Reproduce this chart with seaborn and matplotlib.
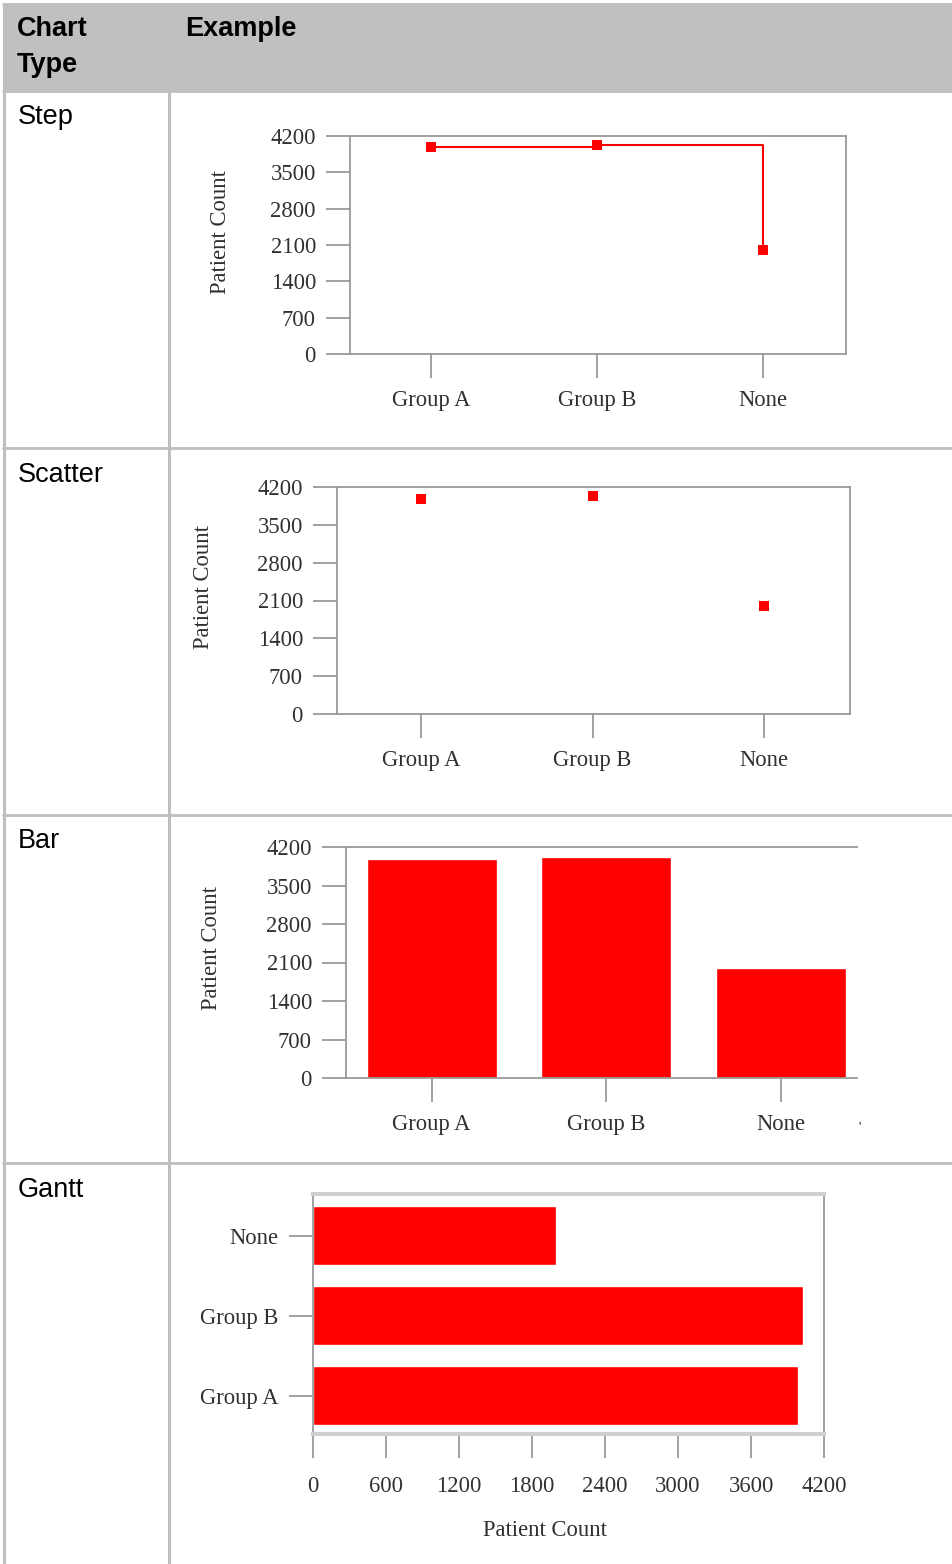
import matplotlib
matplotlib.use("Agg")
import matplotlib.pyplot as plt
from matplotlib.lines import Line2D
import seaborn as sns

# data
groups = ['Group A', 'Group B', 'None']
patient_count = [3985, 4025, 2000]
gantt_order = ['None', 'Group B', 'Group A']
y_ticks = [0, 700, 1400, 2100, 2800, 3500, 4200]
x_ticks_gantt = [0, 600, 1200, 1800, 2400, 3000, 3600, 4200]
row_names = ['Step', 'Scatter', 'Bar', 'Gantt']

sns.set_style('white')
plt.rcParams['font.family'] = ['Liberation Serif', 'DejaVu Serif']

W, H = 953, 1564
fig = plt.figure(figsize=(W / 100, H / 100), dpi=100)

RED = '#ff0000'
SPINE = '#9a9a9a'
TXT = '#303030'
GRID = '#bfbfbf'


def px_axes(x0, y0, x1, y1):
    # axes from pixel box (top-left origin)
    return fig.add_axes([x0 / W, 1 - y1 / H, (x1 - x0) / W, (y1 - y0) / H])


def hline(y, x0, x1, **kw):
    fig.add_artist(Line2D([x0 / W, x1 / W], [1 - y / H, 1 - y / H], transform=fig.transFigure, **kw))


def vline(x, y0, y1, **kw):
    fig.add_artist(Line2D([x / W, x / W], [1 - y0 / H, 1 - y1 / H], transform=fig.transFigure, **kw))


# table frame
fig.patches.append(plt.Rectangle((4 / W, 1 - 91 / H), 1, 87 / H, transform=fig.transFigure,
                                 facecolor='#c0c0c0', edgecolor='none', zorder=0))
for y in [4, 91, 448, 815, 1163]:
    hline(y, 3, W, color=GRID, lw=2)
vline(4, 4, H, color=GRID, lw=2.2)
vline(169, 4, H, color=GRID, lw=2.2)

hfont = dict(family=['Liberation Sans', 'DejaVu Sans'], fontsize=19.5, color='black', va='baseline')
fig.text(17 / W, 1 - 36 / H, 'Chart', fontweight='bold', **hfont)
fig.text(17 / W, 1 - 72 / H, 'Type', fontweight='bold', **hfont)
fig.text(185 / W, 1 - 36 / H, 'Example', fontweight='bold', **hfont)
for name, y in zip(row_names, [124, 482, 848, 1197]):
    fig.text(18 / W, 1 - y / H, name, fontweight='normal', **hfont)

FS = 16.3


def style(ax, top=True, right=True):
    for s in ax.spines.values():
        s.set_color(SPINE)
        s.set_linewidth(1.3)
    ax.spines['top'].set_visible(top)
    ax.spines['right'].set_visible(right)
    ax.tick_params(axis='both', direction='out', length=17, width=1.3, color=SPINE,
                   labelsize=FS, labelcolor=TXT, left=True, bottom=True)


def cat_chart(ax, xlim, ylab_x, ylab_y, top=True, right=True):
    style(ax, top, right)
    ax.set_xlim(*xlim)
    ax.set_ylim(0, 4200)
    ax.set_yticks(y_ticks)
    ax.set_xticks(range(len(groups)))
    ax.set_xticklabels(groups)
    ax.tick_params(axis='x', pad=9)
    ax.tick_params(axis='y', pad=7.5)
    ax.set_xlabel('')
    ax.set_ylabel('Patient Count', fontsize=FS, color=TXT)
    ax.yaxis.set_label_coords(ylab_x, ylab_y)
    ax.yaxis.label.set_verticalalignment('center')
    ax.yaxis.label.set_rotation_mode('anchor')


# Step
ax1 = px_axes(350, 136, 846, 354)
sns.lineplot(x=groups, y=patient_count, ax=ax1, color=RED, lw=1.5, marker='s', markersize=7,
             markeredgewidth=0, drawstyle='steps-post', sort=False)
cat_chart(ax1, (-0.49, 2.5), (220 - 350) / 496, (354 - 232) / 218)

# Scatter
ax2 = px_axes(337, 487, 850, 714)
sns.scatterplot(x=groups, y=patient_count, ax=ax2, color=RED, marker='s', s=50, linewidth=0)
cat_chart(ax2, (-0.49, 2.5), (204 - 337) / 513, (714 - 587) / 227)

# Bar
ax3 = px_axes(346, 847, 857, 1078)
sns.barplot(x=groups, y=patient_count, ax=ax3, color=RED, saturation=1, width=0.745)
cat_chart(ax3, (-0.49, 2.435), (212 - 346) / 511, (1078 - 948) / 231, right=False)
fig.text(860 / W, 1 - 1127 / H, "'", fontsize=9, color='black', ha='center', va='center')

# Gantt
ax4 = px_axes(313, 1194, 824, 1434)
sns.barplot(x=patient_count, y=groups, order=gantt_order, orient='h', ax=ax4, color=RED,
            saturation=1, width=0.74)
style(ax4)
ax4.spines['top'].set_color('#cfcfcf')
ax4.spines['top'].set_linewidth(3)
ax4.spines['bottom'].set_color('#cfcfcf')
ax4.spines['bottom'].set_linewidth(3)
ax4.set_xlim(0, 4200)
ax4.set_ylim(2.48, -0.52)
ax4.set_xticks(x_ticks_gantt)
ax4.tick_params(axis='x', pad=13)
ax4.tick_params(axis='y', pad=8)
ax4.set_ylabel('')
ax4.set_xlabel('Patient Count', fontsize=FS, color=TXT)
ax4.xaxis.set_label_coords((545 - 313) / 511, (1434 - 1530) / 240)
ax4.xaxis.label.set_verticalalignment('center')

fig.savefig('out.png', dpi=100)
